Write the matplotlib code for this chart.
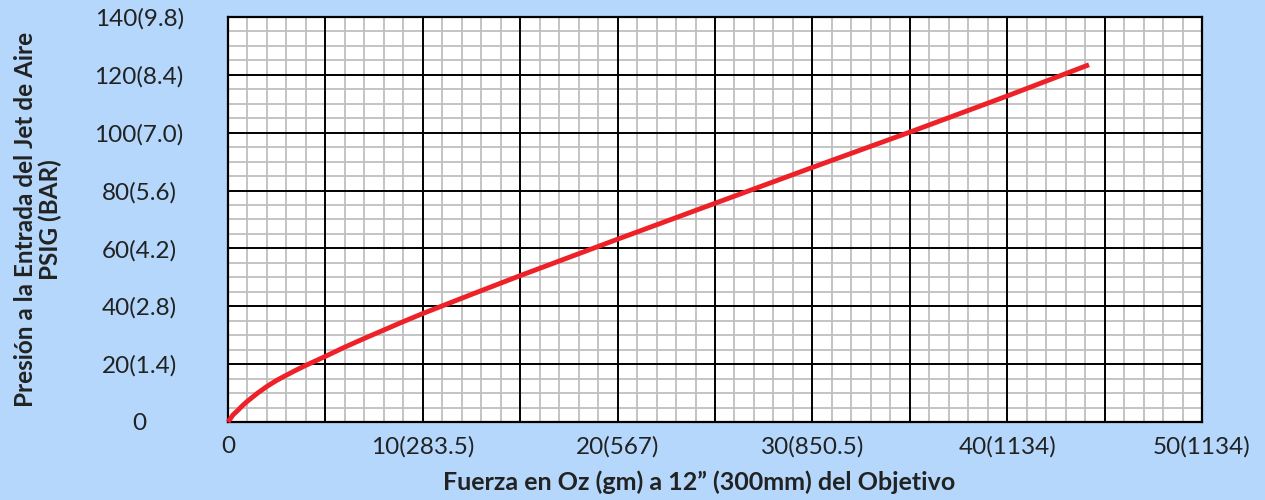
import matplotlib
matplotlib.use("Agg")
import matplotlib.pyplot as plt
from matplotlib.ticker import MultipleLocator

# force on target (oz) vs. air-jet inlet pressure (psig)
force_oz = [0, 0.25, 0.5, 0.75, 1, 1.5, 2, 2.5, 3, 3.5, 4, 5, 6, 7, 8, 9, 10,
            12.5, 15, 20, 25, 30, 35, 40, 44.2]
pressure_psig = [0, 2.4, 4.0, 5.7, 7.2, 9.9, 12.3, 14.4, 16.2, 17.95, 19.6,
                 22.7, 25.9, 28.9, 31.8, 34.7, 37.5, 44.1, 50.6, 63.2, 75.6,
                 88.0, 100.2, 112.7, 123.5]

x_ticks = [0, 10, 20, 30, 40, 50]
x_tick_labels = ["0", "10(283.5)", "20(567)", "30(850.5)", "40(1134)", "50(1134)"]
y_ticks = [0, 20, 40, 60, 80, 100, 120, 140]
y_tick_labels = ["0", "20(1.4)", "40(2.8)", "60(4.2)", "80(5.6)",
                 "100(7.0)", "120(8.4)", "140(9.8)"]

bg = "#b4d7fb"
txt = "#222222"
plt.rcParams["font.family"] = ["Lato", "DejaVu Sans"]

fig = plt.figure(figsize=(12.65, 5.0), dpi=100, facecolor=bg)
ax = fig.add_axes([228 / 1265, 78 / 500, 974 / 1265, 405 / 500])
ax.set_facecolor("white")

ax.set_xlim(0, 50)
ax.set_ylim(0, 140)

# grey grid every 1 oz / 5 psi
ax.xaxis.set_minor_locator(MultipleLocator(1))
ax.yaxis.set_minor_locator(MultipleLocator(5))
ax.grid(which="minor", color="#bfbfbf", linewidth=1.3)
ax.set_axisbelow(True)

ax.set_xticks(range(0, 51, 5))
ax.set_xticklabels(["" if v % 10 else x_tick_labels[x_ticks.index(v)]
                    for v in range(0, 51, 5)])
ax.set_yticks(y_ticks)
ax.set_yticklabels(y_tick_labels)

# black grid every 5 oz / 20 psi, kept above the grey one
for v in ax.get_xticks():
    ax.axvline(v, color="black", linewidth=1.4, zorder=1)
for v in ax.get_yticks():
    ax.axhline(v, color="black", linewidth=1.4, zorder=1)

ax.tick_params(which="both", length=0)
ax.tick_params(axis="x", pad=10, labelsize=17.5, colors=txt)
ax.tick_params(axis="y", pad=64, labelsize=17.5, colors=txt)
for lbl in ax.get_yticklabels():
    lbl.set_horizontalalignment("center")

for s in ax.spines.values():
    s.set_color("black")
    s.set_linewidth(1.6)
    s.set_zorder(2)

ax.plot(force_oz, pressure_psig, color="#ee2128", linewidth=3.5,
        solid_capstyle="butt", solid_joinstyle="round", zorder=3, clip_on=False)

ax.set_xlabel("Fuerza en Oz (gm) a 12\u201d (300mm) del Objetivo",
              fontsize=18, fontweight="bold", color=txt, va="center")
ax.xaxis.set_label_coords(0.4836, -0.148)
ax.set_ylabel("Presión a la Entrada del Jet de Aire\nPSIG (BAR)",
              fontsize=17.5, fontweight="bold", color=txt,
              linespacing=1.1, va="center")
ax.yaxis.set_label_coords(-0.195, 0.5)

fig.savefig("out.png", dpi=100, facecolor=bg)
